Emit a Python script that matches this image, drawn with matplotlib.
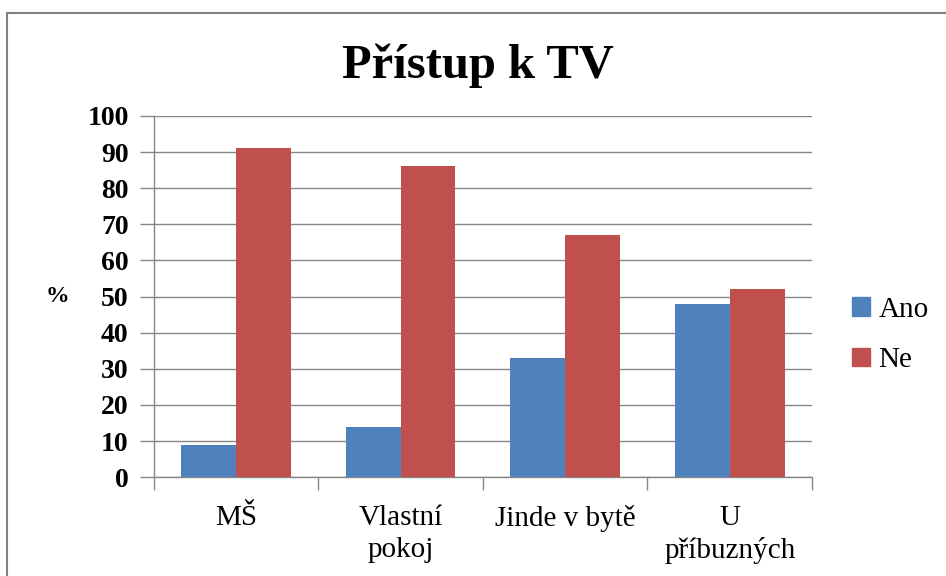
import numpy as np
import matplotlib
matplotlib.use('Agg')
import matplotlib.pyplot as plt
from matplotlib.patches import Patch, Rectangle

categories = ['MŠ', 'Vlastní\npokoj', 'Jinde v bytě', 'U\npříbuzných']
ano = [9, 14, 33, 48]
ne = [91, 86, 67, 52]
series_names = ['Ano', 'Ne']

plt.rcParams['font.family'] = ['Liberation Serif', 'DejaVu Serif']

fig = plt.figure(figsize=(9.46, 5.76), dpi=100)
ax = fig.add_axes([0.1625, 0.1714, 0.6959, 0.6274])

blue = '#4F81BD'
red = '#C0504D'
x = np.arange(len(categories))
w = 1 / 3
ax.bar(x - w / 2, ano, width=w, color=blue, zorder=3)
ax.bar(x + w / 2, ne, width=w, color=red, zorder=3)

ax.set_xlim(-0.5, len(categories) - 0.5)
ax.set_ylim(0, 100)
ax.set_yticks(range(0, 101, 10))
ax.tick_params(axis='y', labelsize=20, length=10, width=1, color='#868686', pad=8)
for lab in ax.get_yticklabels():
    lab.set_fontweight('bold')

# tick marks between categories, labels at centers
ax.set_xticks(np.arange(-0.5, len(categories), 1))
ax.set_xticklabels([])
ax.tick_params(axis='x', which='major', length=9, width=1, color='#868686')
ax.set_xticks(x, minor=True)
ax.set_xticklabels(categories, minor=True, fontsize=21, linespacing=1.3)
ax.tick_params(axis='x', which='minor', length=0, pad=20)

ax.grid(axis='y', color='#868686', linewidth=1, zorder=0)
for s in ['top', 'right']:
    ax.spines[s].set_visible(False)
for s in ['left', 'bottom']:
    ax.spines[s].set_color('#868686')
    ax.spines[s].set_linewidth(1)

fig.text(478 / 946, 1 - 78 / 576, 'Přístup k TV', fontsize=35, fontweight='bold',
         ha='center', va='baseline')
fig.text(57 / 946, 1 - 297 / 576, '%', fontsize=17, fontweight='bold',
         ha='center', va='center')

handles = [Patch(color=blue), Patch(color=red)]
fig.legend(handles, series_names, loc='center left', bbox_to_anchor=(852 / 946, 1 - 335 / 576),
           frameon=False, fontsize=21, handlelength=0.6, handleheight=0.6,
           handletextpad=0.3, labelspacing=0.85, borderpad=0, borderaxespad=0)

fig.patches.append(Rectangle((7 / 946, -0.1), 1.2, 1 - 13 / 576 + 0.1, transform=fig.transFigure,
                             fill=False, edgecolor='#808080', linewidth=1.5))

plt.savefig('out.png', dpi=100)
